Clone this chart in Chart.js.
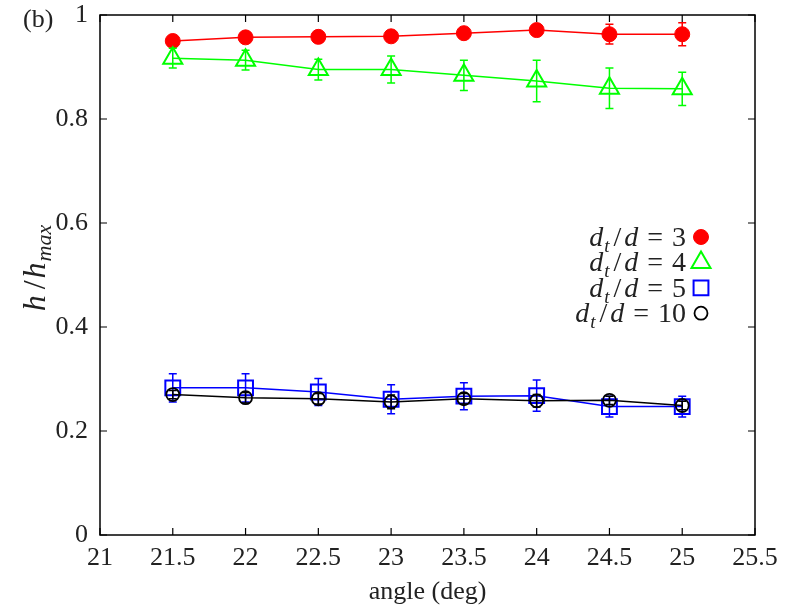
<!DOCTYPE html>
<html lang="en">

<head>
    <meta charset="UTF-8">
    <title>h/hmax vs angle</title>
    <style>
        body { margin: 0; background: #fff; }
    </style>
</head>

<body>

    <canvas id="cvs" width="789" height="612"></canvas>
    <script src="https://cdn.jsdelivr.net/npm/chart.js@4.4.1/dist/chart.umd.min.js"></script>

    <script>
        // data
        const angles = [21.5, 22, 22.5, 23, 23.5, 24, 24.5, 25];

        const h3 = [0.950, 0.957, 0.958, 0.959, 0.965, 0.971, 0.963, 0.963];
        const err3 = [0.006, 0.006, 0.006, 0.006, 0.006, 0.006, 0.019, 0.022];

        const h4 = [0.917, 0.913, 0.895, 0.895, 0.884, 0.873, 0.859, 0.858];
        const err4 = [0.019, 0.019, 0.020, 0.026, 0.029, 0.040, 0.039, 0.032];

        const h5 = [0.283, 0.283, 0.275, 0.261, 0.267, 0.268, 0.247, 0.247];
        const err5 = [0.027, 0.027, 0.026, 0.028, 0.026, 0.030, 0.020, 0.020];

        const h10 = [0.270, 0.264, 0.262, 0.256, 0.262, 0.258, 0.259, 0.249];
        const err10 = [0.008, 0.010, 0.010, 0.013, 0.010, 0.012, 0.008, 0.008];

        const ratios = ['3', '4', '5', '10'];

        const xTicks = [21, 21.5, 22, 22.5, 23, 23.5, 24, 24.5, 25, 25.5];
        const yTicks = [0, 0.2, 0.4, 0.6, 0.8, 1];
        const xTickLabels = ['21', '21.5', '22', '22.5', '23', '23.5', '24', '24.5', '25', '25.5'];
        const yTickLabels = ['0', '0.2', '0.4', '0.6', '0.8', '1'];

        const FONT = "'Liberation Serif', 'DejaVu Serif', serif";

        function pts(ys) {
            return angles.map((a, i) => ({ x: a, y: ys[i] }));
        }

        const ctx = document.getElementById("cvs").getContext("2d");

        // frame with inward ticks on all four sides
        const framePlugin = {
            id: 'frame',
            beforeDatasetsDraw(chart) {
                const c = chart.ctx;
                const a = chart.chartArea;
                const x = chart.scales.x, y = chart.scales.y;
                c.save();
                c.strokeStyle = '#000';
                c.lineWidth = 1.5;
                c.strokeRect(a.left, a.top, a.right - a.left, a.bottom - a.top);
                c.lineWidth = 1.2;
                c.beginPath();
                xTicks.forEach(v => {
                    const px = x.getPixelForValue(v);
                    c.moveTo(px, a.bottom); c.lineTo(px, a.bottom - 7);
                    c.moveTo(px, a.top); c.lineTo(px, a.top + 7);
                });
                yTicks.forEach(v => {
                    const py = y.getPixelForValue(v);
                    c.moveTo(a.left, py); c.lineTo(a.left + 7, py);
                    c.moveTo(a.right, py); c.lineTo(a.right - 7, py);
                });
                c.stroke();
                c.restore();
            }
        };

        // vertical error bars, drawn just before each dataset
        const errorBars = {
            id: 'errorBars',
            beforeDatasetDraw(chart, args) {
                const ds = chart.data.datasets[args.index];
                if (!ds.errors) return;
                const c = chart.ctx;
                const x = chart.scales.x, y = chart.scales.y;
                c.save();
                c.strokeStyle = ds.borderColor;
                c.lineWidth = 1.5;
                c.beginPath();
                ds.data.forEach((p, i) => {
                    const px = x.getPixelForValue(p.x);
                    const top = y.getPixelForValue(p.y + ds.errors[i]);
                    const bot = y.getPixelForValue(p.y - ds.errors[i]);
                    c.moveTo(px, top); c.lineTo(px, bot);
                    c.moveTo(px - 4, top); c.lineTo(px + 4, top);
                    c.moveTo(px - 4, bot); c.lineTo(px + 4, bot);
                });
                c.stroke();
                c.restore();
            }
        };

        // run of text pieces; each may be italic, subscript, and carry a gap after it
        function pieceFont(p, size, sub) {
            return (p.it ? 'italic ' : '') + (p.sub ? sub : size) + 'px ' + FONT;
        }
        function measurePieces(c, pieces, size, sub) {
            let w = 0;
            pieces.forEach(p => {
                c.font = pieceFont(p, size, sub);
                p.w = c.measureText(p.t).width + (p.g || 0);
                w += p.w;
            });
            return w;
        }
        function drawPieces(c, pieces, xLeft, baseY, size, sub, drop) {
            let x = xLeft;
            pieces.forEach(p => {
                c.font = pieceFont(p, size, sub);
                c.fillText(p.t, x + (p.pre || 0), baseY + (p.sub ? drop : 0));
                x += p.w;
            });
        }

        const labelsPlugin = {
            id: 'labels',
            afterDraw(chart) {
                const c = chart.ctx;
                c.save();
                c.fillStyle = '#222';
                c.textBaseline = 'alphabetic';
                c.textAlign = 'left';

                // panel tag
                c.font = '26px ' + FONT;
                c.fillText('(b)', 23, 27);

                // y axis title, rotated
                c.save();
                c.translate(45, 268);
                c.rotate(-Math.PI / 2);
                const yt = [
                    { t: 'h', it: true, g: 4 }, { t: '/', it: false, g: 4, pre: 2 },
                    { t: 'h', it: true, g: 1 }, { t: 'max', it: true, sub: true }
                ];
                const tw = measurePieces(c, yt, 32, 22);
                drawPieces(c, yt, -tw / 2, 0, 32, 22, 6);
                c.restore();

                // legend: text on the left, marker on the right
                chart.data.datasets.forEach((ds, i) => {
                    const cy = 237 + i * 25.4;
                    c.fillStyle = '#222';
                    const lt = [
                        { t: 'd', it: true, g: 1 }, { t: 't', it: true, sub: true, g: 3 },
                        { t: '/', it: false, g: 4, pre: 1 }, { t: 'd', it: true, g: 9 },
                        { t: '=', it: false, g: 9 }, { t: ratios[i], it: false }
                    ];
                    const lw = measurePieces(c, lt, 28, 19);
                    drawPieces(c, lt, 686 - lw, cy + 9, 28, 19, 6);
                    c.strokeStyle = ds.pointBorderColor;
                    c.fillStyle = ds.pointBackgroundColor;
                    c.lineWidth = ds.pointBorderWidth;
                    Chart.helpers.drawPoint(c, {
                        pointStyle: ds.pointStyle,
                        radius: ds.pointRadius,
                        borderWidth: ds.pointBorderWidth,
                        rotation: 0
                    }, 701, cy);
                });
                c.restore();
            }
        };

        const none = 'rgba(0,0,0,0)';

        const datasets = [
            {
                data: pts(h3), errors: err3, order: 4,
                borderColor: '#ff0000', pointBorderColor: '#ff0000', pointBackgroundColor: '#ff0000',
                pointStyle: 'circle', pointRadius: 7.5, pointBorderWidth: 1
            },
            {
                data: pts(h4), errors: err4, order: 3,
                borderColor: '#00ff00', pointBorderColor: '#00ff00', pointBackgroundColor: none,
                pointStyle: 'triangle', pointRadius: 11, pointBorderWidth: 2
            },
            {
                data: pts(h5), errors: err5, order: 2,
                borderColor: '#0000ff', pointBorderColor: '#0000ff', pointBackgroundColor: none,
                pointStyle: 'rect', pointRadius: 10.5, pointBorderWidth: 2
            },
            {
                data: pts(h10), errors: err10, order: 1,
                borderColor: '#000000', pointBorderColor: '#000000', pointBackgroundColor: none,
                pointStyle: 'circle', pointRadius: 6.5, pointBorderWidth: 1.8
            }
        ];
        datasets.forEach(d => {
            d.borderWidth = 1.5;
            d.tension = 0;
            d.fill = false;
            d.pointHoverRadius = d.pointRadius;
        });

        new Chart(ctx, {
            type: 'line',
            data: { datasets },
            options: {
                responsive: false,
                animation: false,
                layout: { padding: { left: 0, right: 34, top: 15, bottom: 0 } },
                plugins: {
                    legend: { display: false },
                    tooltip: { enabled: false }
                },
                scales: {
                    x: {
                        type: 'linear',
                        min: 21, max: 25.5,
                        grid: { display: false, drawTicks: false },
                        border: { display: false },
                        afterBuildTicks: s => { s.ticks = xTicks.map(v => ({ value: v })); },
                        afterFit: s => {
                            s.height = 77;
                            s.paddingLeft = 0; s.paddingRight = 0;
                        },
                        ticks: {
                            padding: 8,
                            color: '#222',
                            font: { family: FONT, size: 26 },
                            maxRotation: 0,
                            callback: (v) => xTickLabels[xTicks.indexOf(v)]
                        },
                        title: {
                            display: true,
                            text: 'angle (deg)',
                            color: '#222',
                            font: { family: FONT, size: 26 },
                            padding: { top: 0, bottom: 4 }
                        }
                    },
                    y: {
                        min: 0, max: 1,
                        grid: { display: false, drawTicks: false },
                        border: { display: false },
                        afterBuildTicks: s => { s.ticks = yTicks.map(v => ({ value: v })); },
                        afterFit: s => {
                            s.width = 100;
                            s.paddingTop = 0; s.paddingBottom = 0;
                        },
                        ticks: {
                            padding: 12,
                            color: '#222',
                            font: { family: FONT, size: 26 },
                            callback: (v) => yTickLabels[yTicks.indexOf(v)]
                        }
                    }
                }
            },
            plugins: [framePlugin, errorBars, labelsPlugin]
        });
    </script>
</body>

</html>
